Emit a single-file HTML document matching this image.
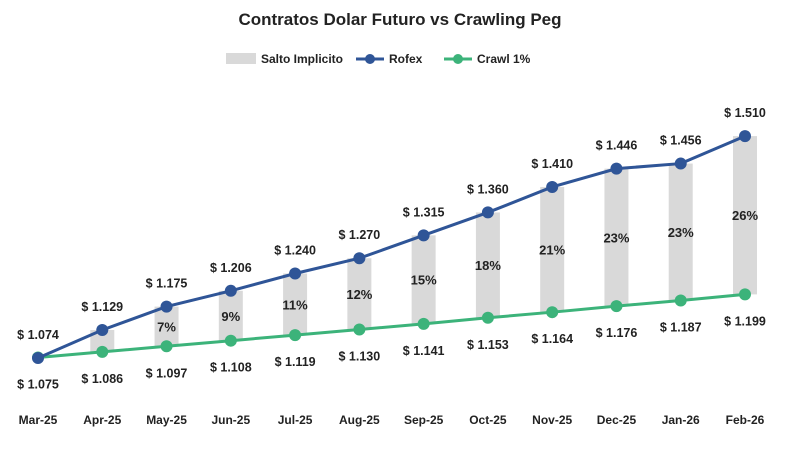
<!DOCTYPE html>
<html><head><meta charset="utf-8"><style>
body{margin:0;background:#fff;font-family:"Liberation Sans",sans-serif}
svg text{font-family:"Liberation Sans",sans-serif;font-weight:bold;fill:#222}
</style></head><body>
<svg id="c" width="800" height="446">
<text x="400" y="25" text-anchor="middle" font-size="17">Contratos Dolar Futuro vs Crawling Peg</text>
<g>
<rect x="226" y="53" width="30" height="11" fill="#d9d9d9"/>
<text x="261" y="63" font-size="12">Salto Implicito</text>
<line x1="356" y1="59" x2="384" y2="59" stroke="#2f5597" stroke-width="3"/>
<circle cx="370" cy="59" r="5" fill="#2f5597"/>
<text x="389" y="63" font-size="12">Rofex</text>
<line x1="444" y1="59" x2="472" y2="59" stroke="#3cb37a" stroke-width="3"/>
<circle cx="458" cy="59" r="5" fill="#3cb37a"/>
<text x="477" y="63" font-size="12">Crawl 1%</text>
</g>
<g id="plot"></g>
</svg>
<script>
const categories=["Mar-25","Apr-25","May-25","Jun-25","Jul-25","Aug-25","Sep-25","Oct-25","Nov-25","Dec-25","Jan-26","Feb-26"];
const rofex=[1.074,1.129,1.175,1.206,1.240,1.270,1.315,1.360,1.410,1.446,1.456,1.510];
const crawl=[1.075,1.086,1.097,1.108,1.119,1.130,1.141,1.153,1.164,1.176,1.187,1.199];
const pctLabels=["","","7%","9%","11%","12%","15%","18%","21%","23%","23%","26%"];
const NS="http://www.w3.org/2000/svg";
const g=document.getElementById('plot');
function xs(i){return 38+i*(745-38)/(categories.length-1);}
function ys(v){return 358-(v-1.074)*509;}
function fmt(v){return "$ "+v.toFixed(3);}
function el(t,a){const e=document.createElementNS(NS,t);for(const k in a)e.setAttribute(k,a[k]);g.appendChild(e);return e;}
categories.forEach((c,i)=>{
  const top=Math.min(ys(rofex[i]),ys(crawl[i])),bot=Math.max(ys(rofex[i]),ys(crawl[i]));
  if(bot-top>1){const r=el('rect',{x:xs(i)-12,y:top,width:24,height:bot-top,fill:'#d9d9d9'});
  
  }
  if(pctLabels[i]){const t=el('text',{x:xs(i),y:(top+bot)/2+5,'text-anchor':'middle','font-size':13});t.textContent=pctLabels[i];
  
  }
  const xl=el('text',{x:xs(i),y:424,'text-anchor':'middle','font-size':12});xl.textContent=c;
  
  
});
function line(arr,col,name){
  const p=el('polyline',{points:arr.map((v,i)=>xs(i)+','+ys(v)).join(' '),fill:'none',stroke:col,'stroke-width':3});
  
  
  arr.forEach((v,i)=>{const c=el('circle',{cx:xs(i),cy:ys(v),r:6,fill:col});
  
  });
}
line(crawl,'#3cb37a','crawl');
line(rofex,'#2f5597','rofex');
rofex.forEach((v,i)=>{const t=el('text',{x:xs(i),y:ys(v)-19,'text-anchor':'middle','font-size':12.5});t.textContent=fmt(v);

});
crawl.forEach((v,i)=>{const t=el('text',{x:xs(i),y:ys(v)+31,'text-anchor':'middle','font-size':12.5});t.textContent=fmt(v);

});
</script>
</body></html>
